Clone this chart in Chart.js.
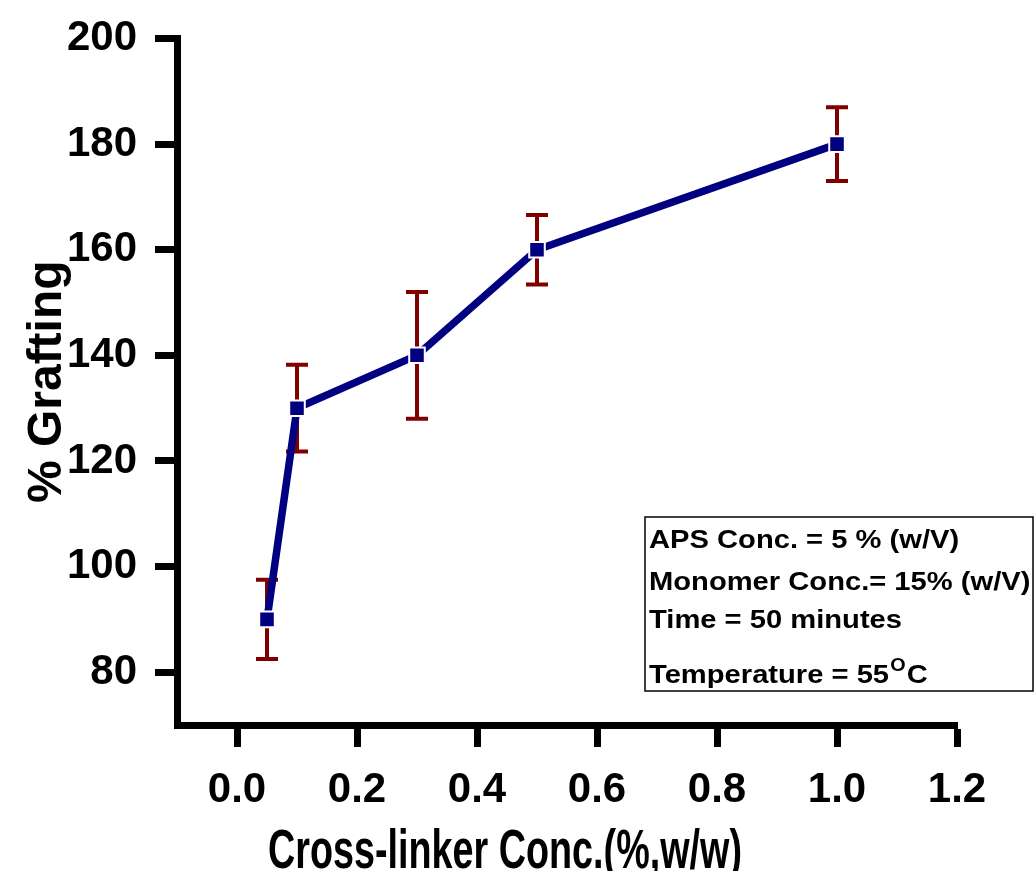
<!DOCTYPE html>
<html>
<head>
<meta charset="utf-8">
<script src="https://cdn.jsdelivr.net/npm/chart.js@4.4.0/dist/chart.umd.min.js"></script>
<style>
  body { margin: 0; background: #fff; }
  #wrap { width: 1035px; height: 871px; }
</style>
</head>
<body>
<div id="wrap"><canvas id="myChart" width="1035" height="871"></canvas></div>
<script>
// data block
var crossLinker = [0.05, 0.1, 0.3, 0.5, 1.0];
var grafting = [90, 130, 140, 160, 180];
var graftErr = [7.5, 8.2, 12, 6.6, 7];

var xTicks = [0.0, 0.2, 0.4, 0.6, 0.8, 1.0, 1.2];
var yTicks = [80, 100, 120, 140, 160, 180, 200];

var xTitle = 'Cross-linker Conc.(%,w/w)';
var yTitle = '% Grafting';
var noteLines = ['APS Conc. = 5 % (w/V)', 'Monomer Conc.= 15% (w/V)', 'Time = 50 minutes', 'Temperature = 55'];
var noteSup = 'O';
var noteTail = 'C';

var fontFam = "'Liberation Sans', Arial, sans-serif";

// error bars, drawn under the line
var errorBars = {
    id: 'errorBars',
    beforeDatasetsDraw: function(chart) {
        var ctx = chart.ctx;
        var xs = chart.scales.x, ys = chart.scales.y;
        ctx.save();
        ctx.strokeStyle = '#800000';
        ctx.lineWidth = 4;
        for (var i = 0; i < crossLinker.length; i++) {
            var px = xs.getPixelForValue(crossLinker[i]);
            var top = ys.getPixelForValue(grafting[i] + graftErr[i]);
            var bot = ys.getPixelForValue(grafting[i] - graftErr[i]);
            ctx.beginPath();
            ctx.moveTo(px, top); ctx.lineTo(px, bot);
            ctx.moveTo(px - 11, top); ctx.lineTo(px + 11, top);
            ctx.moveTo(px - 11, bot); ctx.lineTo(px + 11, bot);
            ctx.stroke();
        }
        ctx.restore();
    }
};

// x title + text box
var extras = {
    id: 'extras',
    afterDraw: function(chart) {
        var ctx = chart.ctx;
        ctx.save();
        ctx.fillStyle = '#000';

        // x axis title (squeezed like the original)
        ctx.font = 'bold 56px ' + fontFam;
        var w = ctx.measureText(xTitle).width;
        ctx.translate(505, 868);
        ctx.scale(474 / w, 1);
        ctx.textAlign = 'center';
        ctx.textBaseline = 'alphabetic';
        ctx.fillText(xTitle, 0, 0);
        ctx.setTransform(1, 0, 0, 1, 0, 0);

        // note box
        ctx.strokeStyle = '#000';
        ctx.lineWidth = 1.5;
        ctx.strokeRect(645, 517, 388, 174);

        var base = [548, 590, 628, 683];
        ctx.textAlign = 'left';
        for (var i = 0; i < noteLines.length; i++) {
            ctx.save();
            ctx.translate(649, base[i]);
            ctx.scale(1.1, 1);
            ctx.font = 'bold 26.5px ' + fontFam;
            ctx.fillText(noteLines[i], 0, 0);
            if (i === noteLines.length - 1) {
                var lw = ctx.measureText(noteLines[i]).width;
                ctx.font = 'bold 18px ' + fontFam;
                ctx.fillText(noteSup, lw + 1, -12);
                var sw = ctx.measureText(noteSup).width;
                ctx.font = 'bold 26.5px ' + fontFam;
                ctx.fillText(noteTail, lw + sw + 2, 0);
            }
            ctx.restore();
        }
        ctx.restore();
    }
};

var myCrt = document.getElementById('myChart');
var myChart = new Chart(myCrt, {
    type: 'line',
    data: {
        datasets: [{
            label: yTitle,
            data: crossLinker.map(function(x, i) { return { x: x, y: grafting[i] }; }),
            borderColor: '#000080',
            backgroundColor: '#000080',
            borderWidth: 7.5,
            pointStyle: 'rect',
            pointRadius: 11,
            pointHoverRadius: 11,
            pointBackgroundColor: '#000080',
            pointBorderColor: '#ffffff',
            pointBorderWidth: 2,
            tension: 0
        }]
    },
    options: {
        responsive: false,
        animation: false,
        devicePixelRatio: 1,
        layout: { padding: { top: 38.5, left: 0, right: 78, bottom: 0 } },
        plugins: {
            legend: { display: false },
            tooltip: { enabled: false }
        },
        scales: {
            x: {
                type: 'linear',
                min: -0.1,
                max: 1.2,
                afterFit: function(s) { s.height = 146; s.paddingLeft = 0; s.paddingRight = 0; },
                afterBuildTicks: function(s) { s.ticks = xTicks.map(function(v) { return { value: v }; }); },
                border: { display: true, width: 7, color: '#000' },
                grid: { drawOnChartArea: false, drawTicks: true, tickLength: 22, tickWidth: 7, tickColor: '#000' },
                ticks: {
                    color: '#000',
                    padding: 18,
                    maxRotation: 0,
                    font: { family: fontFam, size: 42, weight: 'bold' },
                    callback: function(v) { return Number(v).toFixed(1); }
                }
            },
            y: {
                min: 70,
                max: 200,
                afterFit: function(s) { s.width = 177; s.paddingTop = 0; s.paddingBottom = 0; },
                afterBuildTicks: function(s) { s.ticks = yTicks.map(function(v) { return { value: v }; }); },
                border: { display: true, width: 7, color: '#000' },
                grid: { drawOnChartArea: false, drawTicks: true, tickLength: 22, tickWidth: 7, tickColor: '#000' },
                ticks: {
                    color: '#000',
                    padding: 18,
                    font: { family: fontFam, size: 42, weight: 'bold' }
                },
                title: {
                    display: true,
                    text: yTitle,
                    color: '#000',
                    padding: { top: 19, bottom: 0 },
                    font: { family: fontFam, size: 48, weight: 'bold' }
                }
            }
        }
    },
    plugins: [errorBars, extras]
});
</script>
</body>
</html>
